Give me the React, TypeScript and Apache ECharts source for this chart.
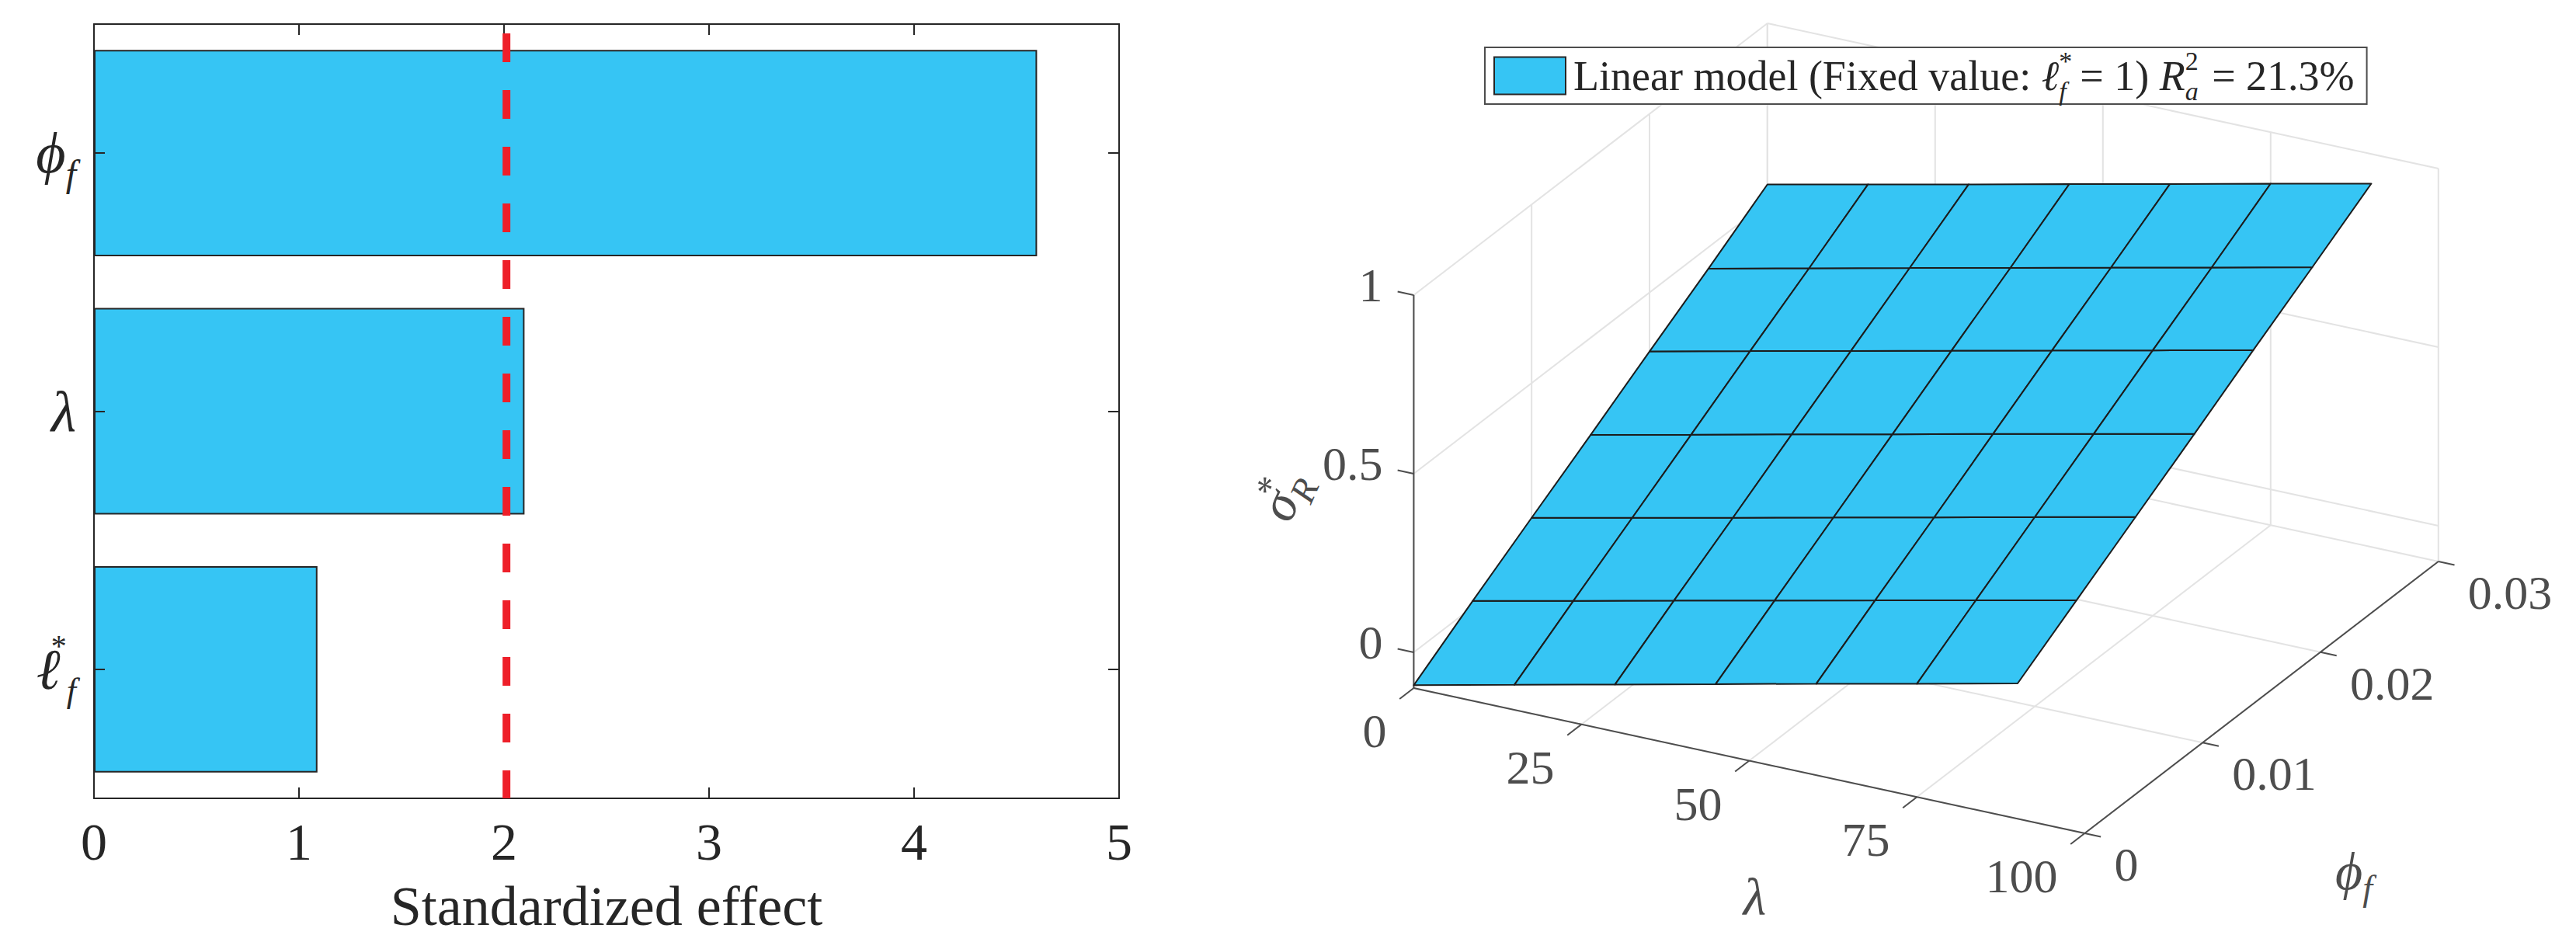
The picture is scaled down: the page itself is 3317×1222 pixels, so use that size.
import React, { useEffect, useRef } from "react";
import * as echarts from "echarts";

// ---- left panel data ----
const factorKeys = ["phi", "lambda", "ell"];
const effects = [4.6, 2.1, 1.09];
const criticalEffect = 2.012;
const effectTicks = [0, 5];

// ---- right panel data ----
const lambdaTicks = [0, 25, 50, 75, 100];
const phiTicks = [0, 0.01, 0.02, 0.03];
const sigmaTicks = [0, 0.5, 1];
const sigmaFloor = -0.1;
const surfaceLambda = [0, 15, 30, 45, 60, 75, 90];
const surfacePhi = [0, 0.005, 0.01, 0.015, 0.02, 0.025, 0.03];
const surfaceSigma = [
  [-0.092, -0.03, 0.032, 0.094, 0.156, 0.217, 0.279],
  [0.017, 0.078, 0.14, 0.201, 0.263, 0.324, 0.385],
  [0.123, 0.184, 0.245, 0.307, 0.368, 0.43, 0.491],
  [0.228, 0.29, 0.352, 0.413, 0.475, 0.536, 0.597],
  [0.335, 0.397, 0.458, 0.52, 0.582, 0.643, 0.705],
  [0.44, 0.502, 0.564, 0.625, 0.687, 0.748, 0.81],
  [0.549, 0.61, 0.671, 0.733, 0.794, 0.856, 0.917],
];
const legendName = "Linear model (Fixed value: ℓ*f = 1) R²a = 21.3%";

// ---- styles ----
const W = 3317;
const H = 1222;
const SERIF = "'Liberation Serif', serif";
const BLUE = "#36C5F4";
const DARK = "#262626";
const GREY = "#4d4d4d";
const GRID = "#e3e3e3";
const RED = "#EE1F29";

const lambdaMax = lambdaTicks[lambdaTicks.length - 1];
const phiMax = phiTicks[phiTicks.length - 1];
const sigmaMax = sigmaTicks[sigmaTicks.length - 1];

// The view of the 3-D box: data (lambda, phi, sigma) -> plane of the hidden full-page axes
const project = (l: number, p: number, s: number): number[] => [
  1820.4 + 8.64 * l + 15180 * p,
  886 + 1.87 * l - 11667 * p - 460 * (s - sigmaFloor),
];

type Seg = number[];
const gridSegs: Seg[] = [];
lambdaTicks.forEach((l) => {
  gridSegs.push([l, 0, sigmaFloor, l, phiMax, sigmaFloor]);
  gridSegs.push([l, phiMax, sigmaFloor, l, phiMax, sigmaMax]);
});
phiTicks.forEach((p) => {
  gridSegs.push([0, p, sigmaFloor, lambdaMax, p, sigmaFloor]);
  gridSegs.push([0, p, sigmaFloor, 0, p, sigmaMax]);
});
sigmaTicks.forEach((s) => {
  gridSegs.push([0, 0, s, 0, phiMax, s]);
  gridSegs.push([0, phiMax, s, lambdaMax, phiMax, s]);
});

const axisSegs: Seg[] = [
  [0, 0, sigmaFloor, lambdaMax, 0, sigmaFloor],
  [lambdaMax, 0, sigmaFloor, lambdaMax, phiMax, sigmaFloor],
  [0, 0, sigmaFloor, 0, 0, sigmaMax],
];
lambdaTicks.forEach((l) => axisSegs.push([l, 0, sigmaFloor, l, -0.0012, sigmaFloor]));
phiTicks.forEach((p) => axisSegs.push([lambdaMax, p, sigmaFloor, lambdaMax + 2.4, p, sigmaFloor]));
sigmaTicks.forEach((s) => axisSegs.push([0, 0, s, -2.4, 0, s]));

const cells: number[][] = [];
surfacePhi.slice(0, -1).forEach((_, r) =>
  surfaceLambda.slice(0, -1).forEach((__, c) => cells.push([r, c]))
);

interface Lbl {
  text: string;
  at: number[];
  dx: number;
  dy: number;
  align: string;
  rotation?: number;
}
const labels3d: Lbl[] = [
  ...lambdaTicks.map((l) => ({ text: String(l), at: [l, 0, sigmaFloor], dx: -35, dy: 55, align: "right" })),
  ...phiTicks.map((p) => ({ text: String(p), at: [lambdaMax, p, sigmaFloor], dx: 38, dy: 40, align: "left" })),
  ...sigmaTicks.map((s) => ({ text: String(s), at: [0, 0, s], dx: -40, dy: -13, align: "right" })),
  { text: "{i|λ}", at: [lambdaMax / 2, 0, sigmaFloor], dx: 7, dy: 175, align: "center" },
  { text: "{i|ϕ}{s|f}", at: [lambdaMax, phiMax / 2, sigmaFloor], dx: 119, dy: 224, align: "center" },
  { text: "{i|σ}{up|*}{s|R}", at: [0, 0, 0.5], dx: -168, dy: 28, align: "center", rotation: (66 * Math.PI) / 180 },
];

const segItem = (color: string, width: number) => (_p: any, api: any) => {
  const a = project(api.value(0), api.value(1), api.value(2));
  const b = project(api.value(3), api.value(4), api.value(5));
  const pa = api.coord(a);
  const pb = api.coord(b);
  return {
    type: "line",
    shape: { x1: pa[0], y1: pa[1], x2: pb[0], y2: pb[1] },
    style: { stroke: color, lineWidth: width, fill: null },
  };
};

const buildOption = () => ({
  animation: false,
  backgroundColor: "#ffffff",
  textStyle: { fontFamily: SERIF },
  legend: {
    show: true,
    data: [{ name: legendName, icon: "rect" }],
    left: 1912,
    top: 61,
    orient: "horizontal",
    selectedMode: false,
    padding: [0, 16, 0, 11],
    itemWidth: 92,
    itemHeight: 48,
    backgroundColor: "#ffffff",
    borderColor: GREY,
    borderWidth: 2,
    itemStyle: { color: BLUE, borderColor: DARK, borderWidth: 2 },
    formatter: () =>
      "{g|}{t|Linear model (Fixed value: }{i|ℓ}{up|*}{s|f}{t| = 1) }{i|R}{up|2}{s|a}{t| = 21.3%}",
    textStyle: {
      fontFamily: SERIF,
      rich: {
        g: { width: 5, lineHeight: 73 },
        t: { fontFamily: SERIF, fontSize: 54, color: DARK, lineHeight: 73 },
        i: { fontFamily: SERIF, fontStyle: "italic", fontSize: 54, color: DARK, lineHeight: 73 },
        s: { fontFamily: SERIF, fontStyle: "italic", fontSize: 34, color: DARK, lineHeight: 41, verticalAlign: "bottom", padding: [0, 4, 0, 0] },
        up: { fontFamily: SERIF, fontSize: 34, color: DARK, lineHeight: 41, verticalAlign: "top", width: 0 },
      },
    },
  },
  grid: [
    { left: 121, top: 31, width: 1320, height: 997, containLabel: false },
    { left: 0, top: 0, width: W, height: H, containLabel: false },
  ],
  xAxis: [
    {
      gridIndex: 0,
      type: "value",
      min: effectTicks[0],
      max: effectTicks[1],
      interval: 1,
      position: "bottom",
      name: "Standardized effect",
      nameLocation: "middle",
      nameGap: 103,
      nameTextStyle: { fontFamily: SERIF, fontSize: 72, color: DARK },
      axisLine: { show: true, onZero: false, lineStyle: { color: DARK, width: 2 } },
      axisTick: { show: true, inside: true, length: 14, lineStyle: { color: DARK, width: 2 } },
      axisLabel: { show: true, fontFamily: SERIF, fontSize: 68, color: DARK, margin: 22 },
      splitLine: { show: false },
      z: 3,
    },
    {
      gridIndex: 0,
      type: "value",
      min: effectTicks[0],
      max: effectTicks[1],
      interval: 1,
      position: "top",
      axisLine: { show: true, onZero: false, lineStyle: { color: DARK, width: 2 } },
      axisTick: { show: true, inside: true, length: 14, lineStyle: { color: DARK, width: 2 } },
      axisLabel: { show: false },
      splitLine: { show: false },
      z: 3,
    },
    { gridIndex: 1, type: "value", min: 0, max: W, show: false },
  ],
  yAxis: [
    {
      gridIndex: 0,
      type: "category",
      data: factorKeys,
      inverse: true,
      position: "left",
      axisLine: { show: true, onZero: false, lineStyle: { color: DARK, width: 2 } },
      axisTick: { show: true, inside: true, length: 14, alignWithLabel: true, lineStyle: { color: DARK, width: 2 } },
      axisLabel: {
        show: true,
        margin: 23,
        formatter: (v: string) =>
          v === "phi" ? "{i|ϕ}{s|f}" : v === "lambda" ? "{i|λ}" : "{l|ℓ}{up|*}{u|f}",
        rich: {
          i: { fontFamily: SERIF, fontStyle: "italic", fontSize: 74, color: DARK, lineHeight: 100 },
          l: { fontFamily: SERIF, fontStyle: "italic", fontSize: 74, color: DARK, lineHeight: 100, padding: [0, 8, 0, 0] },
          s: { fontFamily: SERIF, fontStyle: "italic", fontSize: 48, color: DARK, lineHeight: 58, verticalAlign: "bottom" },
          u: { fontFamily: SERIF, fontStyle: "italic", fontSize: 44, color: DARK, lineHeight: 46, verticalAlign: "bottom" },
          up: { fontFamily: SERIF, fontSize: 40, color: DARK, lineHeight: 72, verticalAlign: "top", width: 0 },
        },
      },
      z: 3,
    },
    {
      gridIndex: 0,
      type: "category",
      data: factorKeys,
      inverse: true,
      position: "right",
      axisLine: { show: true, onZero: false, lineStyle: { color: DARK, width: 2 } },
      axisTick: { show: true, inside: true, length: 14, alignWithLabel: true, lineStyle: { color: DARK, width: 2 } },
      axisLabel: { show: false },
      z: 3,
    },
    { gridIndex: 0, type: "value", min: 0, max: 1, show: false },
    { gridIndex: 1, type: "value", min: 0, max: H, inverse: true, show: false },
  ],
  series: [
    {
      type: "bar",
      xAxisIndex: 0,
      yAxisIndex: 0,
      data: effects,
      barWidth: "80%",
      itemStyle: { color: BLUE, borderColor: DARK, borderWidth: 2 },
      silent: true,
      z: 2,
    },
    {
      type: "line",
      xAxisIndex: 0,
      yAxisIndex: 2,
      data: [
        [criticalEffect, 0.988],
        [criticalEffect, 0],
      ],
      showSymbol: false,
      silent: true,
      lineStyle: { color: RED, width: 10, type: [37, 36], cap: "butt" },
      z: 5,
    },
    {
      type: "custom",
      coordinateSystem: "cartesian2d",
      xAxisIndex: 2,
      yAxisIndex: 3,
      clip: false,
      silent: true,
      z: 1,
      data: gridSegs,
      renderItem: segItem(GRID, 2),
    },
    {
      type: "custom",
      coordinateSystem: "cartesian2d",
      xAxisIndex: 2,
      yAxisIndex: 3,
      clip: false,
      silent: true,
      z: 1.5,
      data: axisSegs,
      renderItem: segItem(GREY, 2),
    },
    {
      type: "custom",
      name: legendName,
      coordinateSystem: "cartesian2d",
      xAxisIndex: 2,
      yAxisIndex: 3,
      clip: false,
      silent: true,
      z: 2,
      itemStyle: { color: BLUE, borderColor: DARK, borderWidth: 2 },
      data: cells,
      renderItem: (_p: any, api: any) => {
        const r = api.value(0);
        const c = api.value(1);
        const corner = (rr: number, cc: number) =>
          api.coord(project(surfaceLambda[cc], surfacePhi[rr], surfaceSigma[rr][cc]));
        return {
          type: "polygon",
          shape: { points: [corner(r, c), corner(r, c + 1), corner(r + 1, c + 1), corner(r + 1, c)] },
          style: { fill: BLUE, stroke: "#1c1c1c", lineWidth: 2, lineJoin: "round" },
        };
      },
    },
    {
      type: "custom",
      coordinateSystem: "cartesian2d",
      xAxisIndex: 2,
      yAxisIndex: 3,
      clip: false,
      silent: true,
      z: 3,
      data: labels3d.map((_, i) => [i, 0]),
      renderItem: (_p: any, api: any) => {
        const l = labels3d[api.value(0)];
        const pt = api.coord(project(l.at[0], l.at[1], l.at[2]));
        return {
          type: "text",
          x: pt[0] + l.dx,
          y: pt[1] + l.dy,
          rotation: l.rotation || 0,
          style: {
            text: l.text,
            align: l.align,
            verticalAlign: "middle",
            fontFamily: SERIF,
            fontSize: 62,
            fill: GREY,
            rich: {
              i: { fontFamily: SERIF, fontStyle: "italic", fontSize: 68, fill: GREY, lineHeight: 90 },
              s: { fontFamily: SERIF, fontStyle: "italic", fontSize: 46, fill: GREY, lineHeight: 50, verticalAlign: "bottom" },
              up: { fontFamily: SERIF, fontSize: 48, fill: GREY, lineHeight: 50, verticalAlign: "top", width: 0 },
            },
          },
        };
      },
    },
  ],
});

export default function App() {
  const ref = useRef<HTMLDivElement>(null);
  useEffect(() => {
    if (!ref.current) return;
    const chart = echarts.init(ref.current, undefined, { renderer: "svg", width: W, height: H });
    chart.setOption(buildOption() as any);
    return () => chart.dispose();
  }, []);
  return (
    <div
      ref={ref}
      style={{ position: "absolute", left: 0, top: 0, width: W, height: H, background: "#fff" }}
    />
  );
}
